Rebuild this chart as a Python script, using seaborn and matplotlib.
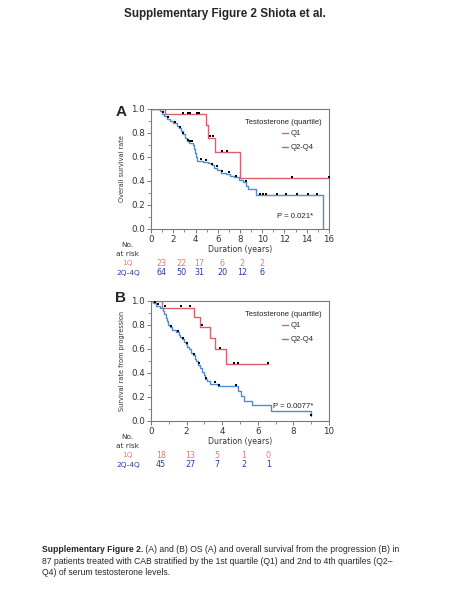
import numpy as np
import pandas as pd
import matplotlib
matplotlib.use("Agg")
import matplotlib.pyplot as plt
from matplotlib.ticker import MultipleLocator
import seaborn as sns

# ---------------- data ----------------
# Panel A : overall survival
a_q1_t = [0, 1.25, 4.95, 5.1, 5.75, 8.0, 16.0]
a_q1_s = [1.0, 0.955, 0.87, 0.76, 0.638, 0.425, 0.425]
a_q1_cens = [2.9, 3.3, 3.5, 4.1, 4.35, 5.3, 5.6, 6.4, 6.8, 12.7, 16.0]

a_q24_t = [0, 0.8, 1.0, 1.2, 1.4, 1.7, 2.0, 2.3, 2.5, 2.7, 2.9, 3.05, 3.2, 3.45,
           3.75, 3.85, 3.95, 4.05, 4.15, 4.7, 5.1, 5.45, 5.7, 5.95, 6.3, 6.7,
           7.1, 7.5, 7.9, 8.3, 8.55, 8.75, 9.45, 15.45]
a_q24_s = [1.0, 0.98, 0.96, 0.94, 0.92, 0.90, 0.88, 0.86, 0.84, 0.82, 0.79, 0.76,
           0.73, 0.72, 0.70, 0.67, 0.63, 0.60, 0.57, 0.56, 0.55, 0.53, 0.51, 0.49,
           0.47, 0.46, 0.44, 0.43, 0.41, 0.39, 0.36, 0.33, 0.28, 0.0]
a_q24_cens = [1.1, 1.5, 2.2, 2.6, 2.9, 3.3, 3.5, 3.7, 4.5, 4.9, 5.5, 5.9, 6.4,
              7.0, 7.6, 8.5, 9.8, 10.1, 10.3, 11.3, 12.1, 13.1, 14.1, 14.9]

# Panel B : survival from progression
b_q1_t = [0, 0.6, 2.4, 2.75, 3.3, 3.6, 4.2, 6.6]
b_q1_s = [1.0, 0.944, 0.865, 0.787, 0.69, 0.60, 0.475, 0.475]
b_q1_cens = [0.8, 1.7, 2.2, 2.85, 3.85, 4.65, 4.9, 6.6]

b_q24_t = [0, 0.1, 0.3, 0.5, 0.65, 0.75, 0.85, 0.9, 0.95, 1.05, 1.2, 1.4, 1.55,
           1.65, 1.75, 1.85, 1.95, 2.05, 2.15, 2.25, 2.35, 2.45, 2.55, 2.65,
           2.75, 2.85, 2.95, 3.05, 3.15, 3.3, 3.75, 4.9, 5.05, 5.2, 5.65, 6.75, 9.0]
b_q24_s = [1.0, 0.98, 0.96, 0.94, 0.92, 0.89, 0.86, 0.83, 0.80, 0.78, 0.76, 0.74,
           0.72, 0.70, 0.68, 0.66, 0.64, 0.62, 0.60, 0.57, 0.55, 0.52, 0.50, 0.47,
           0.44, 0.41, 0.38, 0.35, 0.33, 0.31, 0.29, 0.25, 0.21, 0.17, 0.13, 0.085, 0.04]
b_q24_cens = [0.2, 0.4, 1.1, 1.5, 1.8, 2.0, 2.4, 2.7, 3.1, 3.6, 3.8, 4.8, 9.0]

# at-risk tables
a_risk_x = [0.9, 2.72, 4.34, 6.4, 8.2, 10.0]
a_risk_q1 = ["23", "22", "17", "6", "2", "2"]
a_risk_q24 = ["64", "50", "31", "20", "12", "6"]
b_risk_x = [0.56, 2.2, 3.7, 5.2, 6.6]
b_risk_q1 = ["18", "13", "5", "1", "0"]
b_risk_q24 = ["45", "27", "7", "2", "1"]

groups = ["Q1", "Q2-Q4"]
RED = "#d9606e"
BLUE = "#4f8fd1"
RED_TXT = "#e07b7b"
BLUE_TXT = "#2b3a9e"
TXT = "#333333"

sns.set_theme(style="white")
plt.rcParams["font.family"] = ["Liberation Sans", "DejaVu Sans"]

fig = plt.figure(figsize=(4.5, 6), dpi=100)


def step_value(t, s, x):
    i = np.searchsorted(np.asarray(t), x, side="right") - 1
    return np.asarray(s)[max(i, 0)]


def draw_panel(rect, q1_t, q1_s, q1_c, q24_t, q24_s, q24_c, xmax, xticks,
               ylabel, ptext, p_y, letter, letter_y, risk_x, risk_q1, risk_q24):
    ax = fig.add_axes(rect)
    curves = pd.concat([
        pd.DataFrame({"t": q24_t, "s": q24_s, "grp": groups[1]}),
        pd.DataFrame({"t": q1_t, "s": q1_s, "grp": groups[0]}),
    ], ignore_index=True)
    sns.lineplot(data=curves, x="t", y="s", hue="grp", hue_order=groups,
                 palette=[RED, BLUE], drawstyle="steps-post", estimator=None,
                 sort=False, lw=1.0, ax=ax)
    cens = pd.DataFrame({
        "t": list(q1_c) + list(q24_c),
        "s": [step_value(q1_t, q1_s, x) + 0.012 for x in q1_c]
             + [step_value(q24_t, q24_s, x) + 0.012 for x in q24_c],
    })
    sns.scatterplot(data=cens, x="t", y="s", color="black", marker="s", s=1.6,
                    linewidth=0, ax=ax, legend=False, zorder=5)
    ax.set_xlim(0, xmax)
    ax.set_ylim(0, 1.0)
    ax.set_xticks(xticks)
    ax.xaxis.set_minor_locator(MultipleLocator(1))
    ax.yaxis.set_minor_locator(MultipleLocator(0.1))
    ax.set_yticks([0, 0.2, 0.4, 0.6, 0.8, 1.0])
    ax.set_yticklabels(["0.0", "0.2", "0.4", "0.6", "0.8", "1.0"])
    for sp in ax.spines.values():
        sp.set_color("#7a7a7a")
        sp.set_linewidth(0.8)
        sp.set_visible(True)
    ax.tick_params(axis="both", which="major", direction="out", length=3,
                   width=0.7, color="#7a7a7a", labelsize=6.3, pad=1.5,
                   bottom=True, left=True, labelcolor=TXT)
    ax.tick_params(axis="both", which="minor", direction="out", length=2,
                   width=0.6, color="#7a7a7a", bottom=True, left=True)
    for lab in ax.get_xticklabels() + ax.get_yticklabels():
        lab.set_family("DejaVu Sans")
    ax.set_xlabel("Duration (years)", fontsize=5.6, family="DejaVu Sans",
                  labelpad=0.5, color=TXT)
    ax.set_ylabel(ylabel, fontsize=5.2, labelpad=4, color=TXT,
                  family="DejaVu Sans", fontstretch="condensed")
    # legend entries (title drawn separately, as in the reference)
    leg = ax.legend(frameon=False, loc="upper left",
                    bbox_to_anchor=(0.736, 0.825), borderpad=0,
                    borderaxespad=0, fontsize=5.5, handlelength=0.8,
                    handletextpad=0.35, labelspacing=0.85)
    for line in leg.get_lines():
        line.set_linewidth(1.0)
    ax.text(0.744, 0.89, "Testosterone (quartile)", transform=ax.transAxes,
            ha="center", va="center", fontsize=5.5, color="#222222")
    ax.text(0.912, p_y, ptext, transform=ax.transAxes, ha="right", va="center",
            fontsize=5.6, color="#222222")
    ax.text(-0.17, letter_y, letter, transform=ax.transAxes, ha="center",
            va="center", fontsize=11, fontweight="bold")
    tr = ax.get_xaxis_transform()
    ax.text(-0.13, -0.13, "No.", transform=ax.transAxes, ha="center",
            va="center", fontsize=5.3, family="DejaVu Sans", color=TXT)
    ax.text(-0.13, -0.205, "at risk", transform=ax.transAxes, ha="center",
            va="center", fontsize=5.3, family="DejaVu Sans", color=TXT)
    ax.text(-0.13, -0.285, "1Q", transform=ax.transAxes, ha="center",
            va="center", fontsize=5.3, family="DejaVu Sans", color=RED_TXT)
    ax.text(-0.13, -0.365, "2Q-4Q", transform=ax.transAxes, ha="center",
            va="center", fontsize=5.3, family="DejaVu Sans", color=BLUE_TXT)
    for x, v1, v2 in zip(risk_x, risk_q1, risk_q24):
        ax.text(x, -0.285, v1, transform=tr, ha="center", va="center",
                fontsize=5.8, family="DejaVu Sans", color=RED_TXT)
        ax.text(x, -0.365, v2, transform=tr, ha="center", va="center",
                fontsize=5.8, family="DejaVu Sans", color=BLUE_TXT)
    return ax


draw_panel([151 / 450, 1 - 229 / 600, 178 / 450, 120 / 600],
           a_q1_t, a_q1_s, a_q1_cens, a_q24_t, a_q24_s, a_q24_cens,
           16, [0, 2, 4, 6, 8, 10, 12, 14, 16], "Overall survival rate",
           "P = 0.021*", 0.10, "A", 0.975, a_risk_x, a_risk_q1, a_risk_q24)
draw_panel([151 / 450, 1 - 421 / 600, 178 / 450, 120 / 600],
           b_q1_t, b_q1_s, b_q1_cens, b_q24_t, b_q24_s, b_q24_cens,
           10, [0, 2, 4, 6, 8, 10], "Survival rate from progression",
           "P = 0.0077*", 0.125, "B", 1.025, b_risk_x, b_risk_q1, b_risk_q24)

fig.text(0.5, 1 - 14 / 600, "Supplementary Figure 2 Shiota et al.",
         ha="center", va="center", fontsize=8.4, fontweight="bold")

cap_x = 42 / 450
CAP = 6.2
t1 = fig.text(cap_x, 1 - 552 / 600, "Supplementary Figure 2.", ha="left",
              va="baseline", fontsize=CAP, fontweight="bold")
plt.annotate(" (A) and (B) OS (A) and overall survival from the progression (B) in",
             xy=(1, 0), xycoords=t1, va="bottom", ha="left", fontsize=CAP)
fig.text(cap_x, 1 - 564 / 600,
         "87 patients treated with CAB stratified by the 1st quartile (Q1) and 2nd to 4th quartiles (Q2\u2013",
         ha="left", va="baseline", fontsize=CAP)
fig.text(cap_x, 1 - 575 / 600, "Q4) of serum testosterone levels.",
         ha="left", va="baseline", fontsize=CAP)

fig.savefig("out.png", dpi=100)
